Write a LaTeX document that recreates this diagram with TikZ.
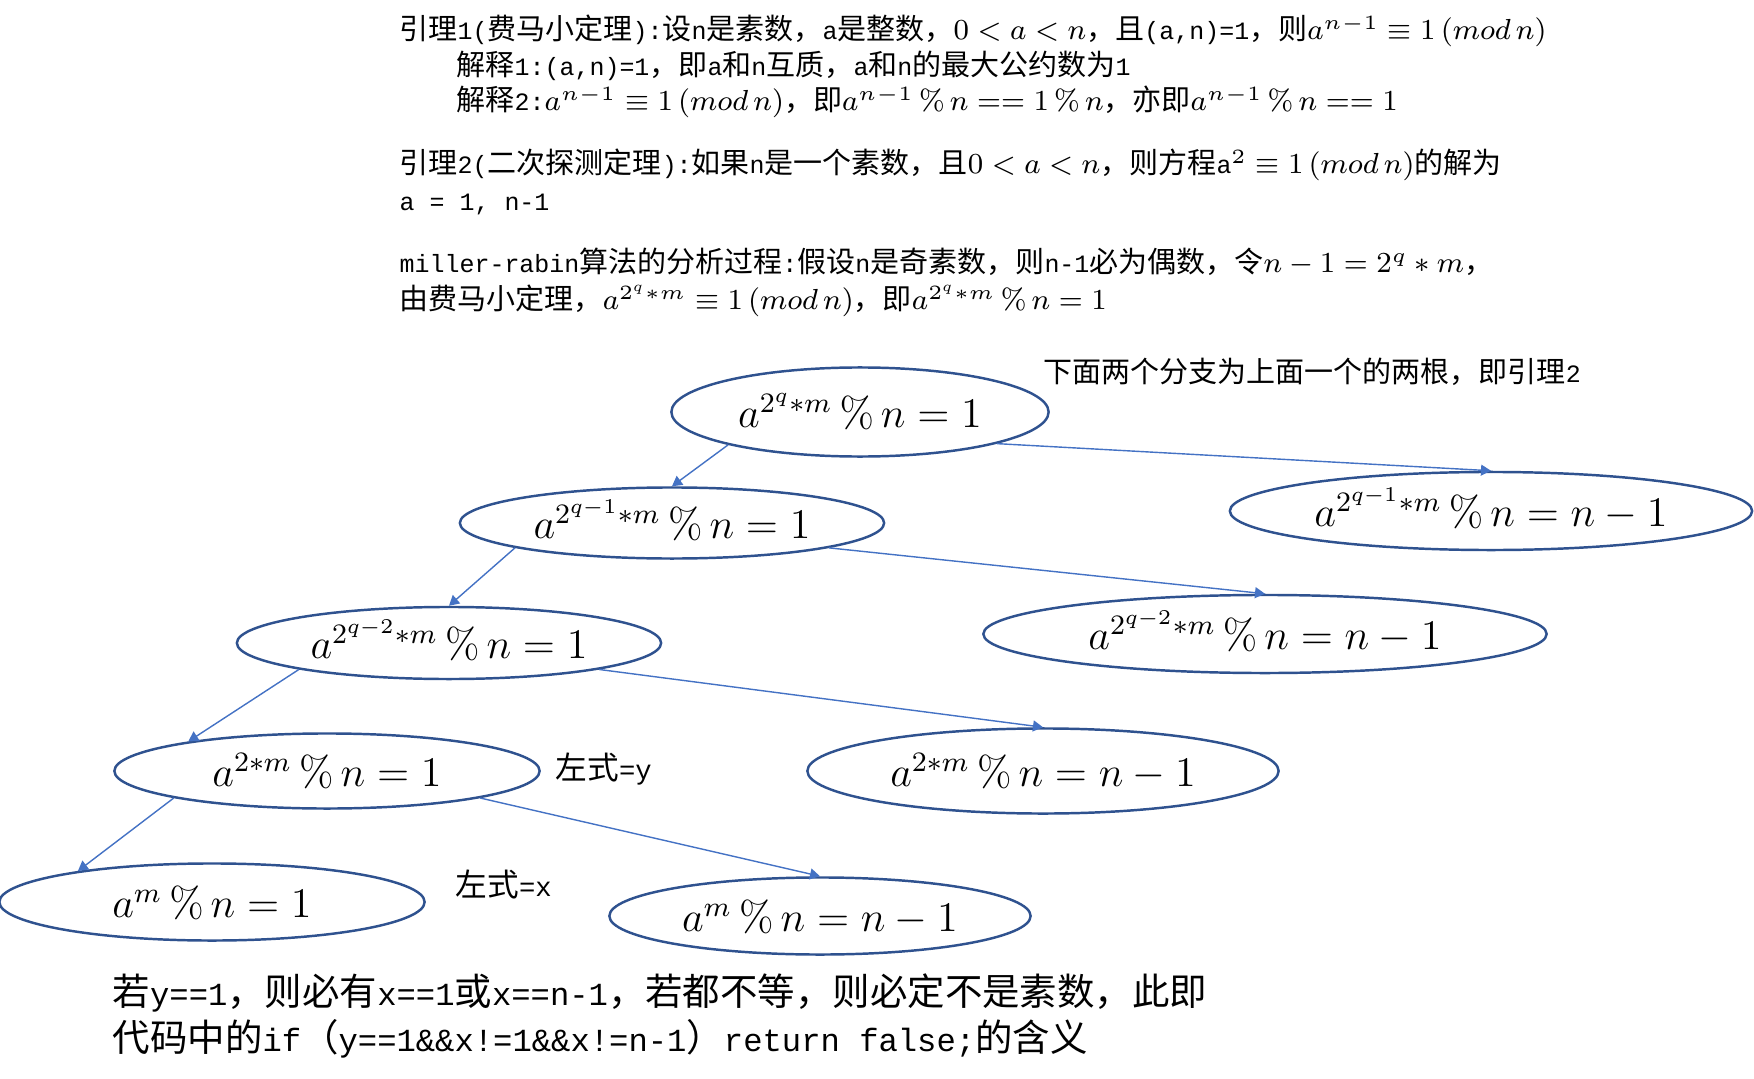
\RequirePackage{fix-cm}
\documentclass[tikz,border=0pt]{standalone}
\usepackage[no-math]{fontspec}
\setmainfont{Noto Sans CJK SC}
\newfontfamily\cjkf{Noto Sans CJK SC}
\newfontfamily\latf{Liberation Mono}[Scale=0.86]
\usetikzlibrary{shapes.geometric,arrows.meta}
\definecolor{eqline}{RGB}{47,82,143}
\definecolor{linkblue}{RGB}{68,114,196}
% 汉字与西文之间自动换字体
\newcount\cjkcode
\cjkcode="4E00 \loop \XeTeXcharclass\cjkcode=1 \advance\cjkcode by 1 \ifnum\cjkcode<"A000 \repeat
\cjkcode="3000 \loop \XeTeXcharclass\cjkcode=1 \advance\cjkcode by 1 \ifnum\cjkcode<"3040 \repeat
\cjkcode="FF00 \loop \XeTeXcharclass\cjkcode=1 \advance\cjkcode by 1 \ifnum\cjkcode<"FF60 \repeat
\XeTeXinterchartokenstate=1
\XeTeXinterchartoks 0 1 = {\cjkf}
\XeTeXinterchartoks 1 0 = {\latf}
\XeTeXinterchartoks 4095 1 = {\cjkf}

\begin{document}
\begin{tikzpicture}[x=0.01cm, y=-0.01cm,
    eq/.style={ellipse, draw=eqline, line width=0.7pt, inner sep=0pt,
      text height=0.37cm, text depth=0.06cm, font=\fontsize{12}{14}\selectfont},
    link/.style={draw=linkblue, line width=0.4pt, -{Triangle[length=1mm, width=1.1mm]}},
    txt/.style={anchor=base west, inner sep=0pt, font=\fontsize{8.25}{10}\selectfont}]
  \useasboundingbox (0,0) rectangle (1754,1079);
  % 引理1
  \node[txt] (t1) at (399,40) {引理1(费马小定理):设n是素数，a是整数，$0<a<n$，且(a,n)=1，则$a^{n-1}\equiv 1\,(mod\,n)$};
  \node[txt] (t2) at (456,76) {解释1:(a,n)=1，即a和n互质，a和n的最大公约数为1};
  \node[txt] (t3) at (456,111) {解释2:$a^{n-1}\equiv 1\,(mod\,n)$，即$a^{n-1}\,\%\,n == 1\,\%\,n$，亦即$a^{n-1}\,\%\,n == 1$};
  % 引理2
  \node[txt] (t4) at (399,174) {引理2(二次探测定理):如果n是一个素数，且$0<a<n$，则方程a$^2\equiv 1\,(mod\,n)$的解为};
  \node[txt] (t5) at (399,211) {\latf a = 1, n-1};
  % 分析过程
  \node[txt] (t6) at (399,273) {\latf miller-rabin算法的分析过程:假设n是奇素数，则n-1必为偶数，令$n-1=2^q*m$，};
  \node[txt] (t7) at (399,310) {由费马小定理，$a^{2^q*m}\equiv 1\,(mod\,n)$，即$a^{2^q*m}\,\%\,n=1$};
  \node[txt] (note) at (1043,382) {下面两个分支为上面一个的两根，即引理2};

  % 左边一列
  \node[eq, minimum width=3.77cm, minimum height=0.89cm] (r0) at (860,412) {$a^{2^q*m}\,\%\,n=1$};
  \node[eq, minimum width=4.24cm, minimum height=0.71cm] (l1) at (672,523) {$a^{2^{q-1}*m}\,\%\,n=1$};
  \node[eq, minimum width=4.24cm, minimum height=0.72cm] (l2) at (449,643) {$a^{2^{q-2}*m}\,\%\,n=1$};
  \node[eq, minimum width=4.25cm, minimum height=0.75cm] (l3) at (327,771) {$a^{2*m}\,\%\,n=1$};
  \node[eq, minimum width=4.25cm, minimum height=0.77cm] (l4) at (212,902) {$a^{m}\,\%\,n=1$};
  % 右边一列
  \node[eq, minimum width=5.22cm, minimum height=0.78cm] (rr1) at (1491,511) {$a^{2^{q-1}*m}\,\%\,n=n-1$};
  \node[eq, minimum width=5.63cm, minimum height=0.78cm] (rr2) at (1265,634) {$a^{2^{q-2}*m}\,\%\,n=n-1$};
  \node[eq, minimum width=4.71cm, minimum height=0.85cm] (rr3) at (1043,771) {$a^{2*m}\,\%\,n=n-1$};
  \node[eq, minimum width=4.21cm, minimum height=0.77cm] (rr4) at (820,916) {$a^{m}\,\%\,n=n-1$};

  \node[txt, font=\fontsize{9}{11}\selectfont] (ly) at (555,779) {左式=y};
  \node[txt, font=\fontsize{9}{11}\selectfont] (lx) at (455,896) {左式=x};

  % 连线
  \draw[link] (r0.194) -- (l1.north);
  \draw[link] (r0.347) -- (rr1.north);
  \draw[link] (l1.189) -- (l2.north);
  \draw[link] (l1.351) -- (rr2.north);
  \draw[link] (l2.190) -- (l3.168);
  \draw[link] (l2.350) -- (rr3.north);
  \draw[link] (l3.190) -- (l4.167);
  \draw[link] (l3.350) -- (rr4.north);

  % 结论
  \node[txt, font=\fontsize{10.65}{13}\selectfont] (b1) at (112,1005) {若y==1，则必有x==1或x==n-1，若都不等，则必定不是素数，此即};
  \node[txt, font=\fontsize{10.65}{13}\selectfont] (b2) at (112,1051) {代码中的if（y==1\&\&x!=1\&\&x!=n-1）return false;的含义};
\end{tikzpicture}
\end{document}
